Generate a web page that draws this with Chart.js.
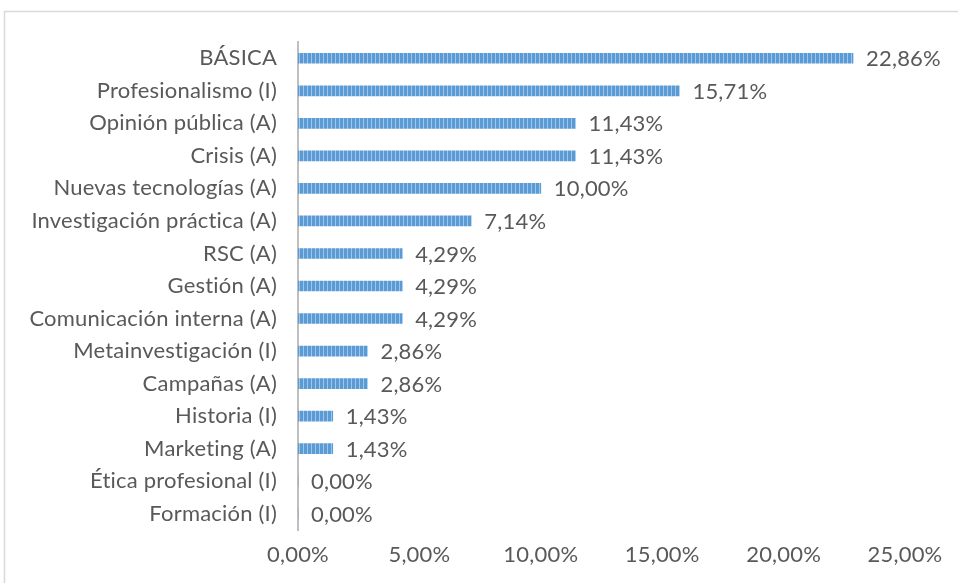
<!DOCTYPE html>
<html>
<head>
<meta charset="utf-8">
<script src="https://cdn.jsdelivr.net/npm/chart.js@4/dist/chart.umd.min.js"></script>
<style>
  html, body { margin: 0; padding: 0; background: #fff; }
  #wrap { width: 958px; height: 583px; }
</style>
</head>
<body>
<div id="wrap"><canvas id="chart"></canvas></div>
<script>
var categories = [
    'BÁSICA', 'Profesionalismo (I)', 'Opinión pública (A)', 'Crisis (A)',
    'Nuevas tecnologías (A)', 'Investigación práctica (A)', 'RSC (A)', 'Gestión (A)',
    'Comunicación interna (A)', 'Metainvestigación (I)', 'Campañas (A)', 'Historia (I)',
    'Marketing (A)', 'Ética profesional (I)', 'Formación (I)'
];
var values = [22.86, 15.71, 11.43, 11.43, 10.00, 7.14, 4.29, 4.29, 4.29, 2.86, 2.86, 1.43, 1.43, 0.00, 0.00];
var xTicks = [0, 5, 10, 15, 20, 25];

var FONT = 'Lato, sans-serif';
var TEXT = '#595959';

function fmt(v) {
    return v.toFixed(2).replace('.', ',') + '%';
}

// striped fill like the original bars
function makePattern() {
    var c = document.createElement('canvas');
    c.width = 4; c.height = 1;
    var g = c.getContext('2d');
    g.fillStyle = '#5b9bd5';
    g.fillRect(0, 0, 4, 1);
    g.fillStyle = '#9fc5e8';
    g.fillRect(3, 0, 1, 1);
    return g.createPattern(c, 'repeat');
}

var framePlugin = {
    id: 'frame',
    beforeDraw: function(chart) {
        var ctx = chart.ctx;
        // small spacing also switches off the "ti" ligature of Lato
        ctx.letterSpacing = '0.2px';
        ctx.save();
        ctx.strokeStyle = '#d9d9d9';
        ctx.lineWidth = 1.5;
        ctx.strokeRect(4.5, 11.5, 1200, 1200);
        ctx.restore();
    }
};

var labelPlugin = {
    id: 'valueLabels',
    afterDatasetsDraw: function(chart) {
        var ctx = chart.ctx;
        var meta = chart.getDatasetMeta(0);
        ctx.save();
        ctx.font = '22px ' + FONT;
        ctx.fillStyle = TEXT;
        ctx.textBaseline = 'middle';
        ctx.textAlign = 'left';
        meta.data.forEach(function(bar, i) {
            ctx.fillText(fmt(values[i]), bar.x + 13, bar.y + 1);
        });
        ctx.restore();
    }
};

var ctx = document.getElementById('chart');
var chart = new Chart(ctx, {
    type: 'bar',
    data: {
        labels: categories,
        datasets: [{
            data: values,
            backgroundColor: makePattern(),
            borderWidth: 0,
            barThickness: 10
        }]
    },
    options: {
        indexAxis: 'y',
        responsive: true,
        maintainAspectRatio: false,
        animation: false,
        layout: { padding: { top: 42, right: 53, left: 0, bottom: 0 } },
        plugins: {
            legend: { display: false },
            tooltip: { enabled: false }
        },
        scales: {
            x: {
                min: 0,
                max: 25,
                afterBuildTicks: function(axis) {
                    axis.ticks = xTicks.map(function(v) { return { value: v }; });
                },
                grid: { display: false, drawTicks: false },
                border: { display: false },
                ticks: {
                    color: TEXT,
                    font: { family: FONT, size: 22 },
                    padding: 12,
                    maxRotation: 0,
                    callback: function(v) { return fmt(v); }
                },
                afterFit: function(axis) { axis.height = 53; }
            },
            y: {
                grid: { display: false, drawTicks: false },
                border: { display: true, color: '#bfbfbf', width: 2 },
                ticks: {
                    color: TEXT,
                    font: { family: FONT, size: 22 },
                    padding: 21
                },
                afterFit: function(axis) { axis.width = 298; }
            }
        }
    },
    plugins: [framePlugin, labelPlugin]
});
</script>
</body>
</html>
